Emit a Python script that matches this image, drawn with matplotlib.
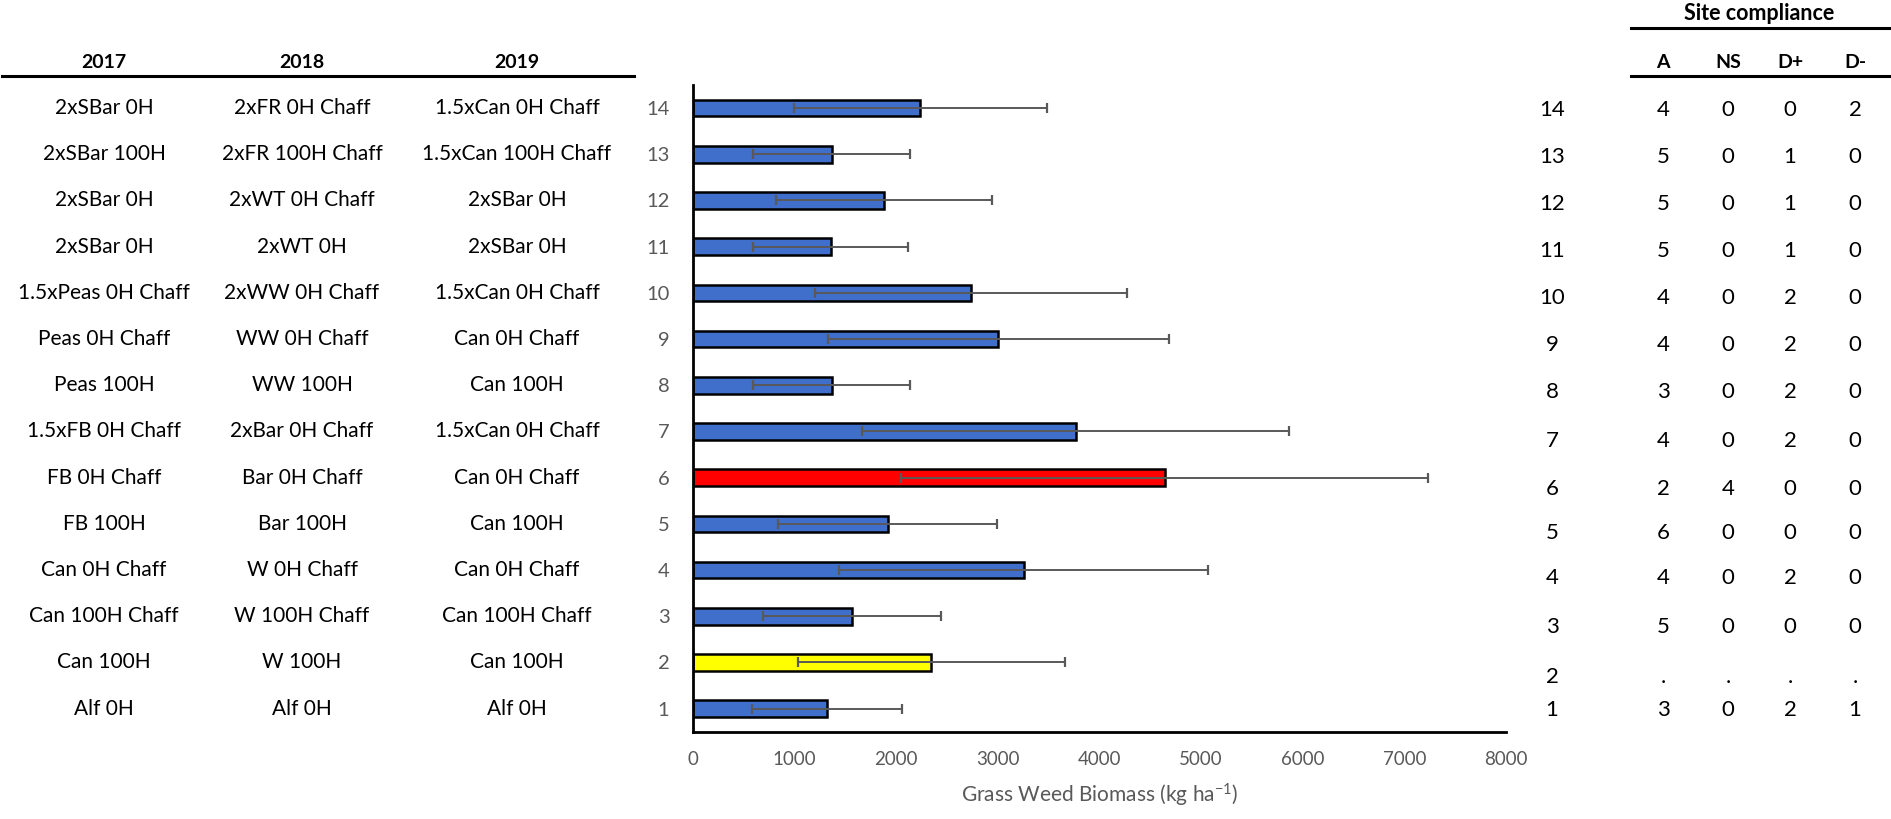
import matplotlib
matplotlib.use("Agg")
import matplotlib.pyplot as plt
from matplotlib.transforms import blended_transform_factory

plt.rcParams['font.family'] = ['Lato', 'DejaVu Sans']
plt.rcParams['mathtext.default'] = 'regular'

# rows, top (14) to bottom (1)
rows = [14, 13, 12, 11, 10, 9, 8, 7, 6, 5, 4, 3, 2, 1]
lab_2017 = ["2xSBar 0H", "2xSBar 100H", "2xSBar 0H", "2xSBar 0H", "1.5xPeas 0H Chaff",
            "Peas 0H Chaff", "Peas 100H", "1.5xFB 0H Chaff", "FB 0H Chaff", "FB 100H",
            "Can 0H Chaff", "Can 100H Chaff", "Can 100H", "Alf 0H"]
lab_2018 = ["2xFR 0H Chaff", "2xFR 100H Chaff", "2xWT 0H Chaff", "2xWT 0H", "2xWW 0H Chaff",
            "WW 0H Chaff", "WW 100H", "2xBar 0H Chaff", "Bar 0H Chaff", "Bar 100H",
            "W 0H Chaff", "W 100H Chaff", "W 100H", "Alf 0H"]
lab_2019 = ["1.5xCan 0H Chaff", "1.5xCan 100H Chaff", "2xSBar 0H", "2xSBar 0H", "1.5xCan 0H Chaff",
            "Can 0H Chaff", "Can 100H", "1.5xCan 0H Chaff", "Can 0H Chaff", "Can 100H",
            "Can 0H Chaff", "Can 100H Chaff", "Can 100H", "Alf 0H"]
biomass = [2237, 1366, 1878, 1357, 2736, 3004, 1366, 3765, 4640, 1915, 3253, 1566, 2345, 1319]
err = [1248, 771, 1060, 762, 1535, 1680, 772, 2100, 2590, 1075, 1815, 878, 1315, 740]
bar_colors = ['#3F6FCB'] * 14
bar_colors[rows.index(6)] = '#FF0000'
bar_colors[rows.index(2)] = '#FFFF00'

comp_cols = ["A", "NS", "D+", "D-"]
comp_A = ["4", "5", "5", "5", "4", "4", "3", "4", "2", "6", "4", "5", ".", "3"]
comp_NS = ["0", "0", "0", "0", "0", "0", "0", "0", "4", "0", "0", "0", ".", "0"]
comp_Dp = ["0", "1", "1", "1", "2", "2", "2", "2", "0", "0", "2", "0", ".", "2"]
comp_Dm = ["2", "0", "0", "0", "0", "0", "0", "0", "0", "0", "0", "0", ".", "1"]

W, H = 1891, 819
fig = plt.figure(figsize=(W / 100, H / 100), dpi=100)
fx = lambda px: px / W
fy = lambda py: 1 - py / H

ax = fig.add_axes([fx(693), fy(731.7), fx(1506) - fx(693), fy(85) - fy(731.7)])
ax.barh(rows, biomass, height=0.36, color=bar_colors, edgecolor='black', linewidth=1.8, zorder=2)
ax.errorbar(biomass, rows, xerr=err, fmt='none', ecolor='#595959', elinewidth=1.4,
            capsize=3.3, capthick=1.6, zorder=3)
ax.set_xlim(0, 8000)
ax.set_ylim(0.5, 14.5)
ax.set_xticks(range(0, 8001, 1000))
ax.set_yticks(rows)
ax.set_yticklabels([str(r) for r in rows])
ax.tick_params(axis='y', length=0, pad=17, labelsize=14.5, labelcolor='#595959')
ax.tick_params(axis='x', length=0, pad=14, labelsize=13.5, labelcolor='#595959')
for s in ['top', 'right']:
    ax.spines[s].set_visible(False)
for s in ['left', 'bottom']:
    ax.spines[s].set_linewidth(2)
    ax.spines[s].set_color('black')
ax.set_xlabel('Grass Weed Biomass (kg ha$^{-1}$)', fontsize=15, color='#595959', labelpad=10)

# left table
tr = blended_transform_factory(fig.transFigure, ax.transData)
for xc, head, labs in [(104, "2017", lab_2017), (302, "2018", lab_2018), (517, "2019", lab_2019)]:
    fig.text(fx(xc), fy(63), head, ha='center', va='center', fontsize=14, fontweight='bold')
    for r, t in zip(rows, labs):
        ax.text(fx(xc), r, t, transform=tr, ha='center', va='center', fontsize=15,
                clip_on=False)
fig.add_artist(plt.Line2D([fx(2), fx(634)], [fy(75.5), fy(75.5)], color='black', lw=2.2))

# right table (site compliance)
right_y = [110, 157, 204, 251, 298, 345, 392, 441, 489, 533, 578, 627, 677, 710]
fig.text(fx(1759), fy(13), "Site compliance", ha='center', va='center', fontsize=15.5,
         fontweight='bold')
fig.add_artist(plt.Line2D([fx(1631), fx(1889)], [fy(27.5), fy(27.5)], color='black', lw=2.2))
col_x = [1663, 1728, 1790, 1855]
for xc, c in zip(col_x, comp_cols):
    fig.text(fx(xc), fy(63), c, ha='center', va='center', fontsize=14, fontweight='bold')
fig.add_artist(plt.Line2D([fx(1631), fx(1889)], [fy(76), fy(76)], color='black', lw=2.2))
for i, r in enumerate(rows):
    y = fy(right_y[i])
    fig.text(fx(1552), y, str(r), ha='center', va='center', fontsize=16)
    for xc, vals in zip(col_x, [comp_A, comp_NS, comp_Dp, comp_Dm]):
        fig.text(fx(xc), y, vals[i], ha='center', va='center', fontsize=16)

fig.savefig('out.png', dpi=100)
